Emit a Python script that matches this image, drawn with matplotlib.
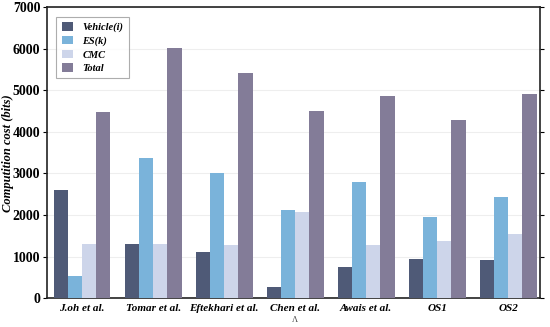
import matplotlib
matplotlib.use("Agg")
import matplotlib.pyplot as plt
import numpy as np

categories = ["J.oh et al.", "Tomar et al.", "Eftekhari et al.", "Chen et al.", "Awais et al.", "OS1", "OS2"]
vehicle = [2600, 1300, 1120, 270, 760, 940, 910]
es = [540, 3380, 3000, 2130, 2800, 1950, 2440]
cmc = [1300, 1300, 1270, 2080, 1270, 1370, 1540]
total = [4480, 6020, 5420, 4510, 4870, 4290, 4920]
series_names = ["Vehicle(i)", "ES(k)", "CMC", "Total"]
colors = ["#4f5a77", "#7ab3da", "#cdd5ea", "#837c98"]

plt.rcParams['font.family'] = ['Liberation Serif', 'DejaVu Serif']
fig = plt.figure(figsize=(5.5, 3.27), dpi=100)
ax = fig.add_axes([0.086, 0.088, 0.896, 0.890])
x = np.arange(len(categories))
w = 0.2
for i, (vals, name, c) in enumerate(zip([vehicle, es, cmc, total], series_names, colors)):
    ax.bar(x + (i - 1.5) * w, vals, w, color=c, label=name, zorder=3)

ax.set_xlim(-0.49, 6.45)
ax.set_ylim(0, 7000)
ax.set_yticks(range(0, 7001, 1000))
ax.set_xticks(x)
ax.set_xticklabels(categories, fontweight='bold', style='italic', fontsize=8)
for lab in ax.get_yticklabels():
    lab.set_fontweight('bold')
    lab.set_fontsize(10)
ax.yaxis.grid(True, color='#eeeeee', linewidth=0.8, zorder=0)
ax.tick_params(axis='y', right=True, direction='in', length=2, width=0.6)
ax.tick_params(axis='y', left=True, direction='out', length=3, width=0.8, pad=2)
ax.tick_params(axis='x', length=0, pad=4)
for s in ax.spines.values():
    s.set_linewidth(1.2)
    s.set_color('#222222')
ax.set_ylabel("Computition cost (bits)", fontweight='bold', style='italic', fontsize=9)
ax.yaxis.set_label_coords(-0.067, 0.5)
leg = ax.legend(loc='upper left', bbox_to_anchor=(0.008, 0.985), prop={'weight': 'bold', 'style': 'italic', 'size': 7.5},
                fancybox=False, edgecolor='#999999', handlelength=1.1, handleheight=0.9, labelspacing=0.35,
                borderpad=0.5, handletextpad=0.9)
leg.get_frame().set_linewidth(0.8)
fig.text(0.537, 0.015, "Λ", fontsize=6, ha='center', color='#444444')
fig.savefig("out.png", dpi=100)
